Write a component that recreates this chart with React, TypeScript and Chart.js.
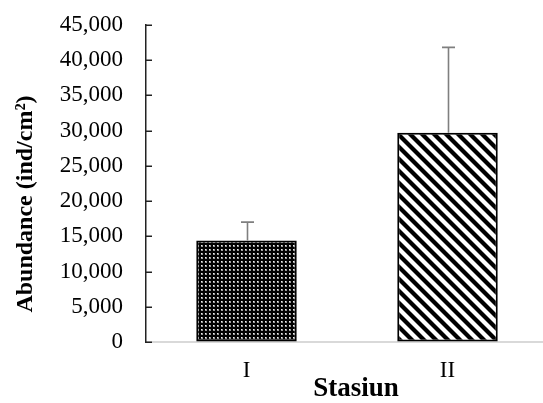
import React, { useEffect, useRef } from 'react';
import { Chart, registerables } from 'chart.js';

Chart.register(...registerables);

// ---- data ----
const categories = ['I', 'II'];
const abundance = [14400, 29700];
const errorPlus = [2600, 12100];
const yMin = 0;
const yMax = 45000;
const yStep = 5000;
const xTitle = 'Stasiun';
const yTitle = 'Abundance (ind/cm²)';

const SHIFT = 12; // canvas is placed SHIFT px above the page top

function makeDotPattern(): CanvasPattern | string {
  const c = document.createElement('canvas');
  c.width = 4;
  c.height = 4;
  const g = c.getContext('2d');
  if (!g) return '#333';
  g.fillStyle = '#000';
  g.fillRect(0, 0, 4, 4);
  g.fillStyle = '#9a9a9a';
  g.fillRect(1, 1, 2, 2);
  g.fillStyle = '#f0f0f0';
  g.fillRect(1, 1, 1, 1);
  const p = g.createPattern(c, 'repeat');
  return p || '#333';
}

function makeStripePattern(): CanvasPattern | string {
  const s = 12;
  const c = document.createElement('canvas');
  c.width = s;
  c.height = s;
  const g = c.getContext('2d');
  if (!g) return '#888';
  g.fillStyle = '#fff';
  g.fillRect(0, 0, s, s);
  g.strokeStyle = '#000';
  g.lineWidth = 4.2;
  for (const off of [-s, 0, s]) {
    g.beginPath();
    g.moveTo(off - 2, -2);
    g.lineTo(off + s + 2, s + 2);
    g.stroke();
  }
  const p = g.createPattern(c, 'repeat');
  return p || '#888';
}

const errorBarsPlugin = {
  id: 'errorBars',
  afterDatasetsDraw(chart: any) {
    const ctx = chart.ctx;
    const meta = chart.getDatasetMeta(0);
    const ys = chart.scales.y;
    ctx.save();
    ctx.strokeStyle = '#7f7f7f';
    ctx.lineWidth = 1.6;
    meta.data.forEach((bar: any, i: number) => {
      const x = Math.round(bar.x) + 0.5;
      const base = bar.y;
      const top = ys.getPixelForValue(abundance[i] + errorPlus[i]);
      ctx.beginPath();
      ctx.moveTo(x, base);
      ctx.lineTo(x, top);
      ctx.moveTo(x - 6.5, top);
      ctx.lineTo(x + 6.5, top);
      ctx.stroke();
    });
    ctx.restore();
  },
};

// inward tick marks on the value axis
const innerTicksPlugin = {
  id: 'innerTicks',
  afterDraw(chart: any) {
    const ctx = chart.ctx;
    const ys = chart.scales.y;
    const left = chart.chartArea.left;
    ctx.save();
    ctx.strokeStyle = '#222';
    ctx.lineWidth = 1.5;
    ys.ticks.forEach((t: any) => {
      const py = Math.round(ys.getPixelForValue(t.value)) + 0.25;
      ctx.beginPath();
      ctx.moveTo(left, py);
      ctx.lineTo(left + 6, py);
      ctx.stroke();
    });
    ctx.restore();
  },
};

const titlesPlugin = {
  id: 'axisTitles',
  afterDraw(chart: any) {
    const ctx = chart.ctx;
    ctx.save();
    ctx.fillStyle = '#000';
    ctx.textAlign = 'center';
    ctx.textBaseline = 'middle';
    ctx.font = 'bold 27px "Liberation Serif"';
    ctx.fillText(xTitle, 356, 389 + SHIFT);
    ctx.translate(26, 204 + SHIFT);
    ctx.rotate(-Math.PI / 2);
    ctx.font = 'bold 24px "Liberation Serif"';
    ctx.fillText(yTitle, 0, 0);
    ctx.restore();
  },
};

export default function App() {
  const ref = useRef<HTMLCanvasElement | null>(null);

  useEffect(() => {
    if (!ref.current) return;
    const chart = new Chart(ref.current, {
      type: 'bar',
      data: {
        labels: categories,
        datasets: [
          {
            data: abundance,
            backgroundColor: [makeDotPattern(), makeStripePattern()] as any,
            borderColor: '#000',
            borderWidth: 2,
            borderSkipped: false,
            barPercentage: 0.5,
            categoryPercentage: 1,
          },
        ],
      },
      options: {
        responsive: false,
        animation: false,
        devicePixelRatio: 1,
        layout: { padding: { left: 0, right: 0, top: 8, bottom: 0 } },
        plugins: {
          legend: { display: false },
          tooltip: { enabled: false },
          title: { display: false },
        },
        scales: {
          x: {
            grid: { display: false },
            border: { display: true, color: '#d9d9d9', width: 2 },
            ticks: {
              color: '#000',
              padding: 7,
              font: { family: 'Liberation Serif', size: 23 },
            },
            afterFit(scale: any) {
              scale.height = 61;
            },
          },
          y: {
            min: yMin,
            max: yMax,
            grid: {
              drawOnChartArea: false,
              drawTicks: false,
            },
            border: { display: true, color: '#222', width: 1.5 },
            ticks: {
              stepSize: yStep,
              color: '#000',
              padding: 23,
              font: { family: 'Liberation Serif', size: 23 },
              callback: (v: any) => Number(v).toLocaleString('en-US'),
            },
            afterFit(scale: any) {
              scale.width = 146;
            },
          },
        },
      },
      plugins: [errorBarsPlugin, innerTicksPlugin, titlesPlugin],
    });
    return () => chart.destroy();
  }, []);

  return (
    <div
      style={{
        position: 'fixed',
        left: 0,
        top: 0,
        width: 543,
        height: 403,
        overflow: 'hidden',
        background: '#fff',
      }}
    >
      <canvas
        ref={ref}
        width={548}
        height={403 + SHIFT}
        style={{ display: 'block', position: 'absolute', left: 0, top: -SHIFT }}
      />
    </div>
  );
}
